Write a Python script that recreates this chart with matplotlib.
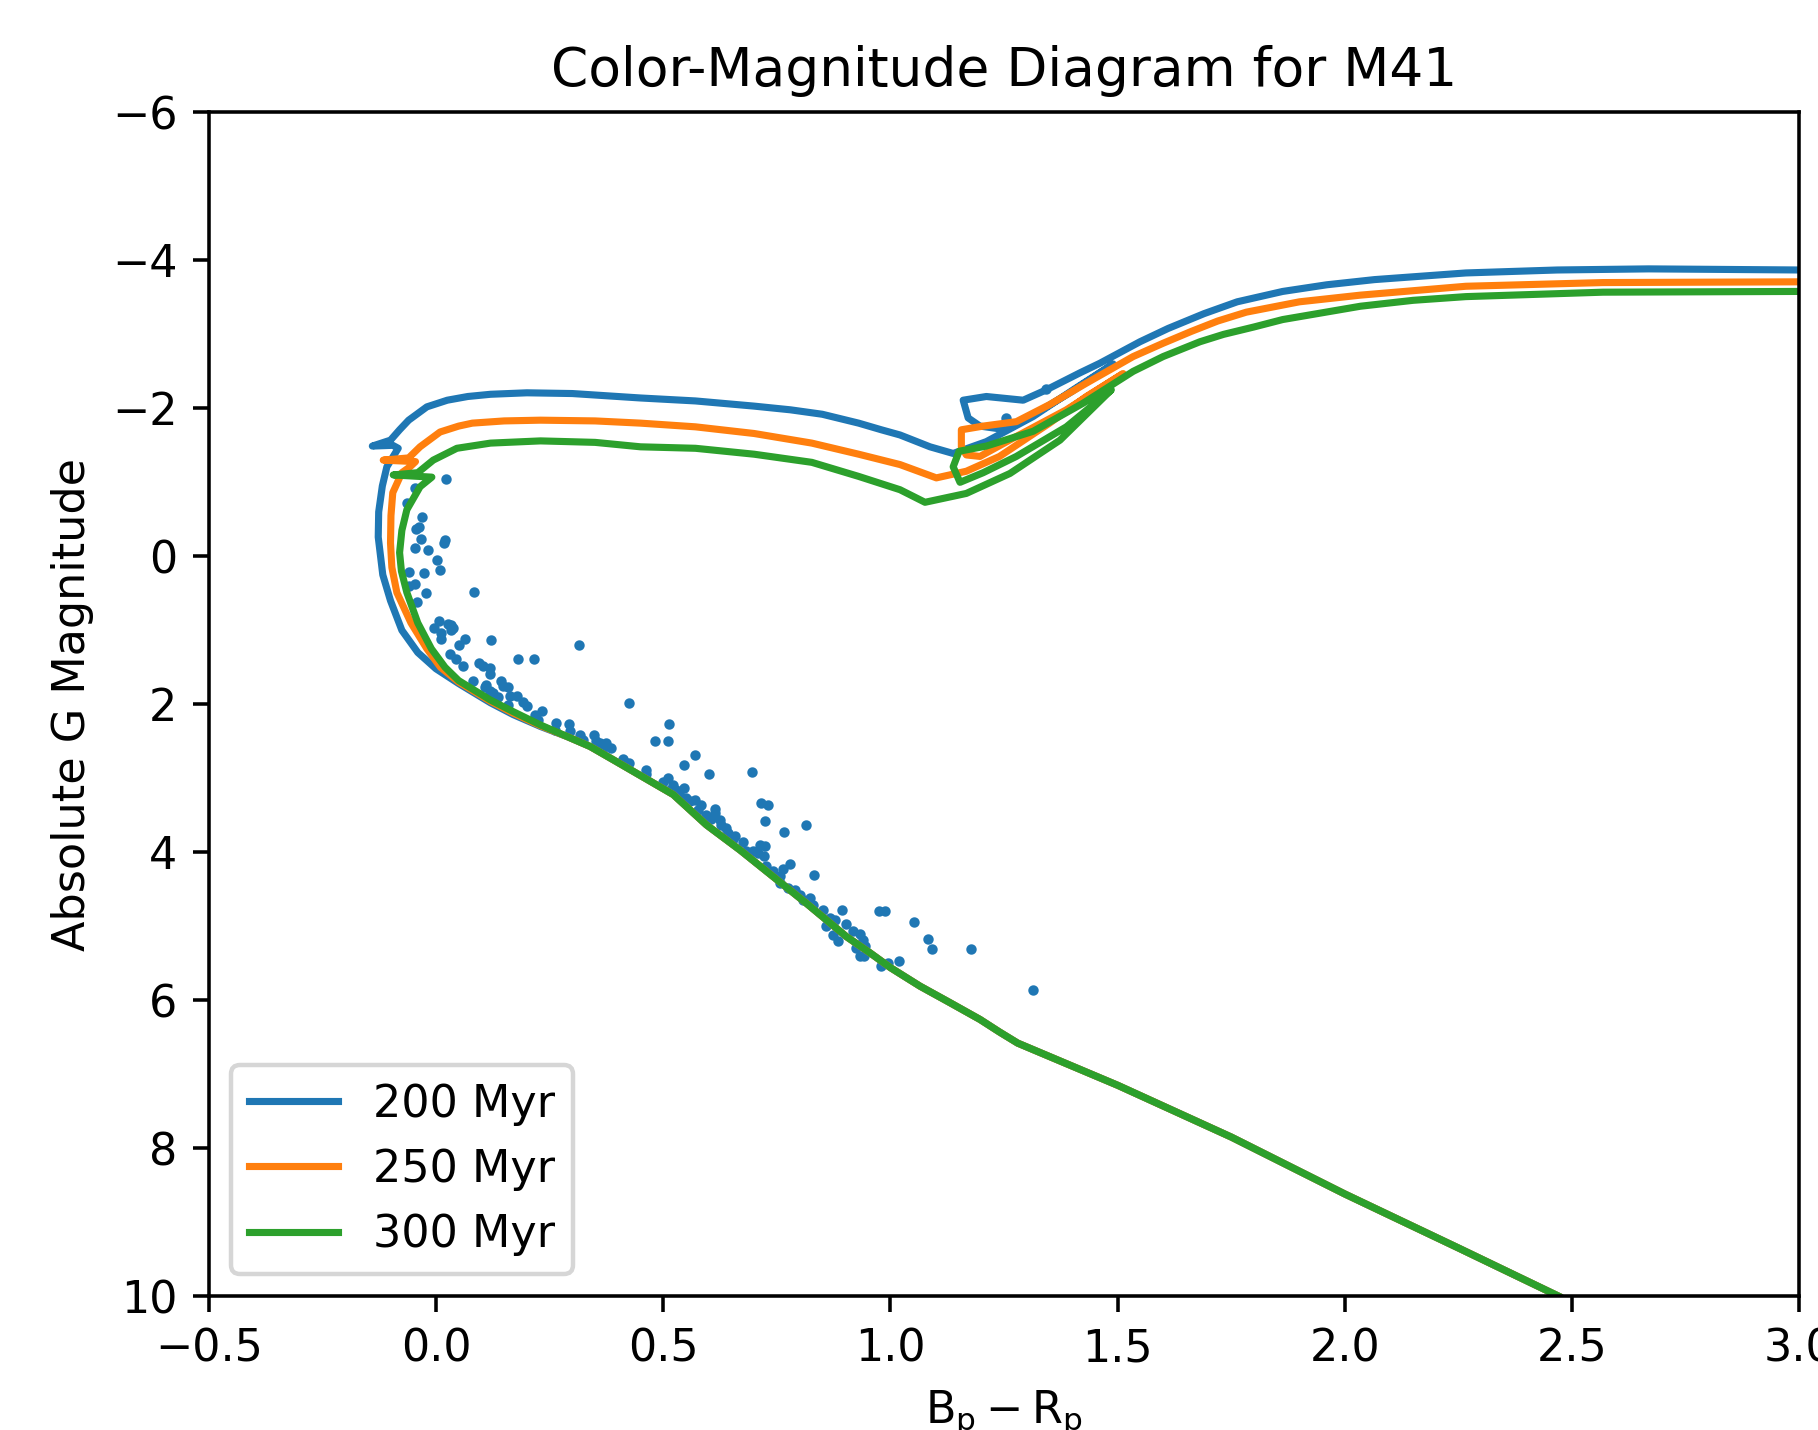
import numpy as np
import matplotlib
matplotlib.use('Agg')
import matplotlib.pyplot as plt

star_color = [
    0.023, -0.046, -0.063, -0.030, -0.043, -0.037, -0.033, 0.019, 0.018, -0.046,
    -0.018, 0.003, 0.009, -0.059, -0.026, -0.059, -0.046, -0.023, -0.041, 0.084,
    0.007, -0.004, 0.027, 0.034, 0.038, 0.034, 0.010, 0.012, 0.064, 0.122,
    0.051, 0.315, 0.031, 0.044, 0.181, 0.216,
    0.059, 0.095, 0.104, 0.119, 0.119, 0.081, 0.111, 0.108, 0.120, 0.126,
    0.143, 0.148, 0.159, 0.137, 0.163, 0.178, 0.159, 0.192, 0.201, 0.218,
    0.225, 0.234, 0.264, 0.292, 0.262, 0.295, 0.317, 0.324, 0.348, 0.353,
    0.361, 0.375, 0.368, 0.386, 0.411, 0.412, 0.425, 0.424, 0.513,
    0.482, 0.511, 0.570, 0.546, 0.601, 0.696, 0.463, 0.463, 0.500, 0.511,
    0.522, 0.515, 0.529, 0.546, 0.537, 0.551, 0.559, 0.570, 0.584, 0.577,
    0.595, 0.614, 0.614, 0.606, 0.625, 0.628, 0.639, 0.643, 0.654, 0.658,
    0.675, 0.683, 0.698, 0.709, 0.713, 0.724, 0.722, 0.716, 0.731, 0.724,
    0.765, 0.814, 0.727, 0.742, 0.757, 0.764, 0.779, 0.757, 0.775, 0.790,
    0.801, 0.808, 0.823, 0.830, 0.832,
    0.852, 0.894, 0.975, 0.988, 0.867, 0.878, 0.858, 0.903, 0.917, 0.934,
    0.939, 0.874, 0.885, 0.944, 0.925, 0.933, 0.942, 1.051, 1.082, 1.092,
    1.178, 1.018, 0.995, 0.979, 1.314,
    1.255, 1.343,
]
star_mag = [
    -1.04, -0.93, -0.718, -0.525, -0.367, -0.390, -0.232, -0.214, -0.178, -0.119,
    -0.088, 0.052, 0.182, 0.214, 0.227, 0.399, 0.372, 0.502, 0.619, 0.489,
    0.881, 0.975, 0.917, 0.935, 0.971, 0.993, 1.038, 1.115, 1.119, 1.128,
    1.205, 1.196, 1.322, 1.385, 1.385, 1.385,
    1.480, 1.444, 1.476, 1.512, 1.588, 1.692, 1.737, 1.768, 1.827, 1.849,
    1.692, 1.750, 1.768, 1.904, 1.885, 1.885, 2.016, 1.976, 2.030, 2.142,
    2.210, 2.088, 2.255, 2.264, 2.345, 2.358, 2.413, 2.480, 2.422, 2.503,
    2.525, 2.525, 2.593, 2.593, 2.737, 2.750, 2.795, 1.985, 2.264,
    2.494, 2.503, 2.683, 2.827, 2.944, 2.917, 2.885, 2.944, 3.057, 2.998,
    3.088, 3.156, 3.156, 3.133, 3.246, 3.268, 3.313, 3.291, 3.358, 3.426,
    3.494, 3.417, 3.471, 3.552, 3.561, 3.629, 3.674, 3.741, 3.818, 3.786,
    3.867, 3.989, 3.989, 4.012, 3.899, 3.912, 4.057, 3.336, 3.358, 3.575,
    3.723, 3.638, 4.192, 4.259, 4.327, 4.228, 4.160, 4.417, 4.484, 4.507,
    4.575, 4.642, 4.620, 4.710, 4.304,
    4.777, 4.777, 4.791, 4.791, 4.890, 4.921, 4.993, 4.966, 5.070, 5.106,
    5.183, 5.115, 5.196, 5.273, 5.295, 5.408, 5.408, 4.948, 5.169, 5.309,
    5.309, 5.475, 5.498, 5.543, 5.863,
    -1.87, -2.26,
]

# shared lower main sequence of the isochrones (faint end first)
ms_color = [2.47, 2.25, 2.0, 1.75, 1.5, 1.28, 1.24, 1.197, 1.13, 1.065, 1.0,
            0.955, 0.903, 0.815, 0.742, 0.669, 0.595, 0.522, 0.449, 0.39,
            0.339, 0.29]
ms_mag = [10.0, 9.35, 8.62, 7.85, 7.15, 6.58, 6.43, 6.26, 6.03, 5.81, 5.56,
          5.36, 5.14, 4.69, 4.33, 3.97, 3.63, 3.22, 2.96, 2.75,
          2.57, 2.44]

# upper parts: turnoff, subgiant, RGB, loop, AGB
iso200_color = [0.23, 0.17, 0.12, 0.05, 0.0, -0.04, -0.075, -0.10, -0.117,
                -0.127, -0.126, -0.118, -0.108, -0.083, -0.095, -0.14, -0.10,
                -0.08, -0.06, -0.02, 0.025, 0.07, 0.12, 0.2, 0.3, 0.45, 0.571,
                0.70, 0.78, 0.85, 0.93, 0.98, 1.021, 1.087, 1.138, 1.211,
                1.314, 1.402, 1.49, 1.40, 1.30, 1.255, 1.197, 1.171, 1.16,
                1.211, 1.292, 1.343, 1.417, 1.461, 1.549, 1.611, 1.69, 1.763,
                1.863, 1.96, 2.065, 2.266, 2.467, 2.668, 3.0, 3.2]
iso200_mag = [2.30, 2.14, 1.98, 1.72, 1.52, 1.30, 1.0, 0.60, 0.25,
              -0.26, -0.60, -0.95, -1.21, -1.46, -1.50, -1.49, -1.57,
              -1.71, -1.84, -2.02, -2.11, -2.16, -2.19, -2.21, -2.20, -2.14,
              -2.10, -2.03, -1.98, -1.92, -1.80, -1.71, -1.64, -1.48, -1.39,
              -1.55, -1.89, -2.25, -2.60, -2.23, -1.86, -1.71, -1.76, -1.87,
              -2.11, -2.16, -2.11, -2.25, -2.48, -2.61, -2.90, -3.08, -3.28,
              -3.44, -3.58, -3.67, -3.74, -3.83, -3.87, -3.885, -3.87, -3.86]

iso250_color = [0.23, 0.17, 0.12, 0.05, 0.01, -0.02, -0.055, -0.086, -0.097,
                -0.10, -0.099, -0.095, -0.075, -0.057, -0.045, -0.116, -0.06,
                -0.035, 0.009, 0.05, 0.08, 0.15, 0.23, 0.35, 0.45, 0.571,
                0.70, 0.827, 0.93, 1.021, 1.101, 1.167, 1.24, 1.35, 1.431,
                1.512, 1.387, 1.277, 1.197, 1.167, 1.156, 1.156, 1.204, 1.277,
                1.35, 1.431, 1.534, 1.60, 1.662, 1.72, 1.783, 1.9, 2.034,
                2.266, 2.568, 3.0, 3.2]
iso250_mag = [2.29, 2.12, 1.96, 1.70, 1.50, 1.25, 0.90, 0.49, 0.15,
              -0.18, -0.55, -0.86, -1.13, -1.21, -1.28, -1.30, -1.33,
              -1.48, -1.68, -1.76, -1.80, -1.83, -1.84, -1.83, -1.80, -1.75,
              -1.66, -1.53, -1.38, -1.24, -1.06, -1.15, -1.35, -1.80, -2.16,
              -2.47, -1.98, -1.62, -1.35, -1.37, -1.48, -1.71, -1.76, -1.82,
              -2.05, -2.34, -2.70, -2.88, -3.04, -3.18, -3.30, -3.44, -3.53,
              -3.65, -3.70, -3.71, -3.71]

iso300_color = [0.23, 0.17, 0.119, 0.05, 0.02, -0.01, -0.04, -0.064, -0.076,
                -0.08, -0.075, -0.064, -0.035, -0.009, -0.094, -0.04, -0.006,
                0.046, 0.12, 0.23, 0.35, 0.45, 0.571, 0.70, 0.827, 0.93,
                1.021, 1.076, 1.167, 1.263, 1.373, 1.486, 1.387, 1.277, 1.204,
                1.153, 1.138, 1.151, 1.211, 1.314, 1.424, 1.534, 1.60, 1.681,
                1.733, 1.80, 1.863, 2.034, 2.15, 2.266, 2.568, 3.0, 3.2]
iso300_mag = [2.28, 2.10, 1.94, 1.68, 1.50, 1.25, 0.90, 0.49, 0.20,
              -0.05, -0.35, -0.63, -0.94, -1.07, -1.10, -1.13, -1.30,
              -1.46, -1.53, -1.56, -1.54, -1.48, -1.46, -1.38, -1.27, -1.08,
              -0.90, -0.73, -0.85, -1.12, -1.57, -2.25, -1.75, -1.35, -1.13,
              -1.00, -1.21, -1.42, -1.49, -1.69, -2.07, -2.50, -2.70, -2.90,
              -3.00, -3.10, -3.20, -3.38, -3.46, -3.51, -3.57, -3.58, -3.58]

ages = ['200 Myr', '250 Myr', '300 Myr']
iso_colors = [iso200_color, iso250_color, iso300_color]
iso_mags = [iso200_mag, iso250_mag, iso300_mag]

fig = plt.figure(figsize=(1818 / 320, 1430 / 320), dpi=320)
ax = fig.add_axes([0.1148, 0.0936, 0.875, 0.8278])

ax.scatter(star_color, star_mag, s=1.8, color='C0')

for age, c, m in zip(ages, iso_colors, iso_mags):
    x = np.concatenate([ms_color, c])
    y = np.concatenate([ms_mag, m])
    ax.plot(x, y, label=age, lw=1.6, solid_joinstyle='round')

ax.set_xlim(-0.5, 3.0)
ax.set_ylim(10, -6)
ax.set_title('Color-Magnitude Diagram for M41')
ax.set_xlabel(r'$\mathrm{B_p - R_p}$')
ax.set_ylabel('Absolute G Magnitude')
ax.legend(loc='lower left')

fig.savefig('out.png', dpi=320)
